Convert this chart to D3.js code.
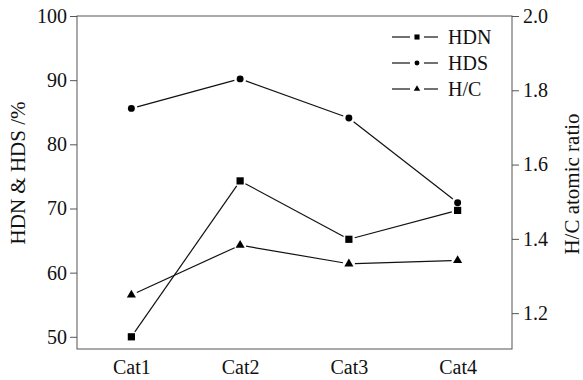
<!DOCTYPE html>
<html lang="en">
<head>
    <meta charset="UTF-8">
    <title>HDN HDS H/C</title>
    <script src="https://d3js.org/d3.v7.min.js"></script>
</head>
<style>
    body {
        margin: 0;
        background: #fff;
    }
    text {
        font-family: "Liberation Serif", "Times New Roman", serif;
        fill: #111;
    }
</style>
<body>
<div class="chart"></div>
<script>
  /** DATA */
  var categories = ['Cat1', 'Cat2', 'Cat3', 'Cat4'];
  var hdnValues = [50.0, 74.3, 65.2, 69.7];
  var hdsValues = [85.6, 90.2, 84.1, 70.9];
  var hcValues = [1.249, 1.383, 1.333, 1.342];
  var leftTicks = [50, 60, 70, 80, 90, 100];
  var rightTicks = [1.2, 1.4, 1.6, 1.8, 2.0];

  /** LAYOUT */
  var width = 583, height = 380;
  var plotLeft = 77, plotRight = 512, plotTop = 16, plotBottom = 349;
  var fontSize = '20px';
  var titleSize = '21px';

  var svg = d3.select('.chart').append('svg')
    .attr('width', width)
    .attr('height', height);

  var x = d3.scalePoint()
    .domain(categories)
    .range([plotLeft, plotRight])
    .padding(0.5);

  var yLeft = d3.scaleLinear()
    .domain([48.1, 100])
    .range([plotBottom, plotTop]);

  var yRight = d3.scaleLinear()
    .domain([1.1035, 2.0])
    .range([plotBottom, plotTop]);

  /** frame */
  svg.append('rect')
    .attr('x', plotLeft)
    .attr('y', plotTop)
    .attr('width', plotRight - plotLeft)
    .attr('height', plotBottom - plotTop)
    .attr('fill', 'none')
    .attr('stroke', '#555')
    .attr('stroke-width', 1);

  /** axes */
  var leftAxis = svg.append('g')
    .attr('transform', 'translate(' + plotLeft + ',0)')
    .call(d3.axisLeft(yLeft).tickValues(leftTicks).tickSize(7).tickPadding(3));

  var rightAxis = svg.append('g')
    .attr('transform', 'translate(' + plotRight + ',0)')
    .call(d3.axisRight(yRight).tickValues(rightTicks).tickSize(7).tickPadding(4)
      .tickFormat(d3.format('.1f')));

  var bottomAxis = svg.append('g')
    .attr('transform', 'translate(0,' + plotBottom + ')')
    .call(d3.axisBottom(x).tickSize(0).tickPadding(11));

  [leftAxis, rightAxis, bottomAxis].forEach(function (ax) {
    ax.select('.domain').remove();
    ax.selectAll('line').attr('stroke', '#555');
    ax.selectAll('text')
      .style('font-family', '"Liberation Serif", serif')
      .style('font-size', fontSize)
      .attr('fill', '#111');
  });

  /** axis titles */
  svg.append('text')
    .attr('transform', 'translate(25,173) rotate(-90)')
    .attr('text-anchor', 'middle')
    .style('font-size', titleSize)
    .text('HDN & HDS /%');

  svg.append('text')
    .attr('transform', 'translate(579,184) rotate(-90)')
    .attr('text-anchor', 'middle')
    .style('font-size', titleSize)
    .text('H/C atomic ratio');

  /** series */
  var series = [
    {name: 'HDN', values: hdnValues, scale: yLeft, symbol: d3.symbolSquare, size: 52},
    {name: 'HDS', values: hdsValues, scale: yLeft, symbol: d3.symbolCircle, size: 38},
    {name: 'H/C', values: hcValues, scale: yRight, symbol: d3.symbolTriangle, size: 36}
  ];

  var gap = 6;

  series.forEach(function (s) {
    var pts = s.values.map(function (v, i) {
      return [x(categories[i]), s.scale(v)];
    });
    var g = svg.append('g');
    /** segments with a small gap at each marker */
    for (var i = 0; i < pts.length - 1; i++) {
      var p0 = pts[i], p1 = pts[i + 1];
      var dx = p1[0] - p0[0], dy = p1[1] - p0[1];
      var len = Math.sqrt(dx * dx + dy * dy);
      var ux = dx / len, uy = dy / len;
      g.append('line')
        .attr('x1', p0[0] + ux * gap)
        .attr('y1', p0[1] + uy * gap)
        .attr('x2', p1[0] - ux * gap)
        .attr('y2', p1[1] - uy * gap)
        .attr('stroke', '#111')
        .attr('stroke-width', 1.2);
    }
    g.selectAll('path')
      .data(pts)
      .enter().append('path')
      .attr('transform', function (d) { return 'translate(' + d[0] + ',' + d[1] + ')'; })
      .attr('d', d3.symbol().type(s.symbol).size(s.size))
      .attr('fill', '#000');
  });

  /** legend */
  var legend = svg.append('g');
  var legendRowY = [37, 63, 89];
  series.forEach(function (s, i) {
    var row = legend.append('g')
      .attr('transform', 'translate(0,' + legendRowY[i] + ')');
    row.append('line')
      .attr('x1', 392).attr('x2', 410).attr('y1', 0).attr('y2', 0)
      .attr('stroke', '#111').attr('stroke-width', 1.2);
    row.append('line')
      .attr('x1', 424).attr('x2', 438).attr('y1', 0).attr('y2', 0)
      .attr('stroke', '#111').attr('stroke-width', 1.2);
    row.append('path')
      .attr('transform', 'translate(417,0)')
      .attr('d', d3.symbol().type(s.symbol).size(s.size * 0.5))
      .attr('fill', '#000');
    row.append('text')
      .attr('x', 448)
      .attr('y', 6.5)
      .style('font-size', fontSize)
      .text(s.name);
  });
</script>
</body>
</html>
